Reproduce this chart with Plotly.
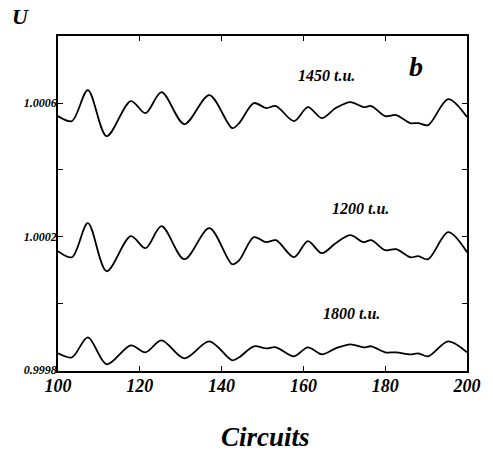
import plotly.graph_objects as go

circuits = [100, 103.4, 107.3, 111.9, 117.8, 121.4, 125.3, 130.9, 137.0, 142.6,
            144.3, 147.9, 150.9, 153.3, 157.7, 161.1, 164.5, 167.9, 171.5, 174.7,
            176.6, 180.0, 182.7, 186.1, 188.1, 190.5, 195.4, 200.0]

u_1450 = [1.000561, 1.000546, 1.000639, 1.000501, 1.000606, 1.000570, 1.000633, 1.000537,
          1.000624, 1.000525, 1.000540, 1.000600, 1.000585, 1.000591, 1.000546, 1.000588,
          1.000555, 1.000585, 1.000603, 1.000588, 1.000591, 1.000561, 1.000564, 1.000540,
          1.000540, 1.000534, 1.000612, 1.000558]

u_1200 = [1.000156, 1.000138, 1.000240, 1.000096, 1.000201, 1.000165, 1.000231, 1.000132,
          1.000225, 1.000117, 1.000129, 1.000198, 1.000183, 1.000189, 1.000138, 1.000186,
          1.000150, 1.000180, 1.000204, 1.000183, 1.000189, 1.000159, 1.000162, 1.000138,
          1.000141, 1.000132, 1.000213, 1.000153]

u_1800 = [0.999850, 0.999838, 0.999898, 0.999817, 0.999874, 0.999853, 0.999889, 0.999835,
          0.999886, 0.999829, 0.999838, 0.999871, 0.999865, 0.999868, 0.999841, 0.999868,
          0.999847, 0.999865, 0.999877, 0.999868, 0.999871, 0.999853, 0.999853, 0.999847,
          0.999850, 0.999841, 0.999886, 0.999853]

x_ticks = [100, 120, 140, 160, 180, 200]
y_ticks = [0.9998, 1.0000, 1.0002, 1.0004, 1.0006, 1.0008]
y_tick_text = ["0.9998", "", "1.0002", "", "1.0006", ""]

series = [("1450 t.u.", u_1450), ("1200 t.u.", u_1200), ("1800 t.u.", u_1800)]

FONT = "Liberation Serif"

fig = go.Figure()
for name, ys in series:
    fig.add_trace(go.Scatter(x=circuits, y=ys, mode="lines", name=name,
                             line=dict(color="black", width=1.8, shape="spline", smoothing=0.9),
                             showlegend=False))

fig.update_layout(
    width=493, height=452,
    margin=dict(l=58, r=24, t=36, b=81),
    paper_bgcolor="white", plot_bgcolor="white",
    font=dict(family=FONT, color="black"),
)
fig.update_xaxes(range=[100, 200], tickvals=x_ticks, ticktext=[str(v) for v in x_ticks],
                 ticks="inside", ticklen=5, tickcolor="black", tickwidth=1,
                 showline=True, linecolor="black", linewidth=1.8, mirror="ticks",
                 showgrid=False, zeroline=False, ticklabelstandoff=-3,
                 tickfont=dict(family=FONT, size=18, weight="bold", style="italic", color="black"))
fig.update_yaxes(range=[0.999797, 1.000801], tickvals=y_ticks, ticktext=y_tick_text,
                 ticks="inside", ticklen=5, tickcolor="black", tickwidth=1,
                 showline=True, linecolor="black", linewidth=1.8, mirror="ticks",
                 showgrid=False, zeroline=False, ticklabelstandoff=-3,
                 tickfont=dict(family=FONT, size=12, weight="bold", style="italic", color="black"))

def ann(text, x, y, size):
    fig.add_annotation(text=text, xref="paper", yref="paper", x=x, y=y,
                       showarrow=False, xanchor="center", yanchor="middle",
                       font=dict(family=FONT, size=size, weight="bold", style="italic", color="black"))

def px(xp, yp):
    # convert figure pixel to plot-area paper coords
    return (xp - 58) / (469 - 58), (371 - yp) / (371 - 36)

for text, (xp, yp), size in [("1450 t.u.", (328, 75), 16), ("1200 t.u.", (362, 208), 16),
                             ("1800 t.u.", (353, 313), 16), ("b", (418, 66), 28),
                             ("U", (20, 17), 22), ("Circuits", (267, 437), 27)]:
    x, y = px(xp, yp)
    ann(text, x, y, size)

fig.write_html("out.html")
